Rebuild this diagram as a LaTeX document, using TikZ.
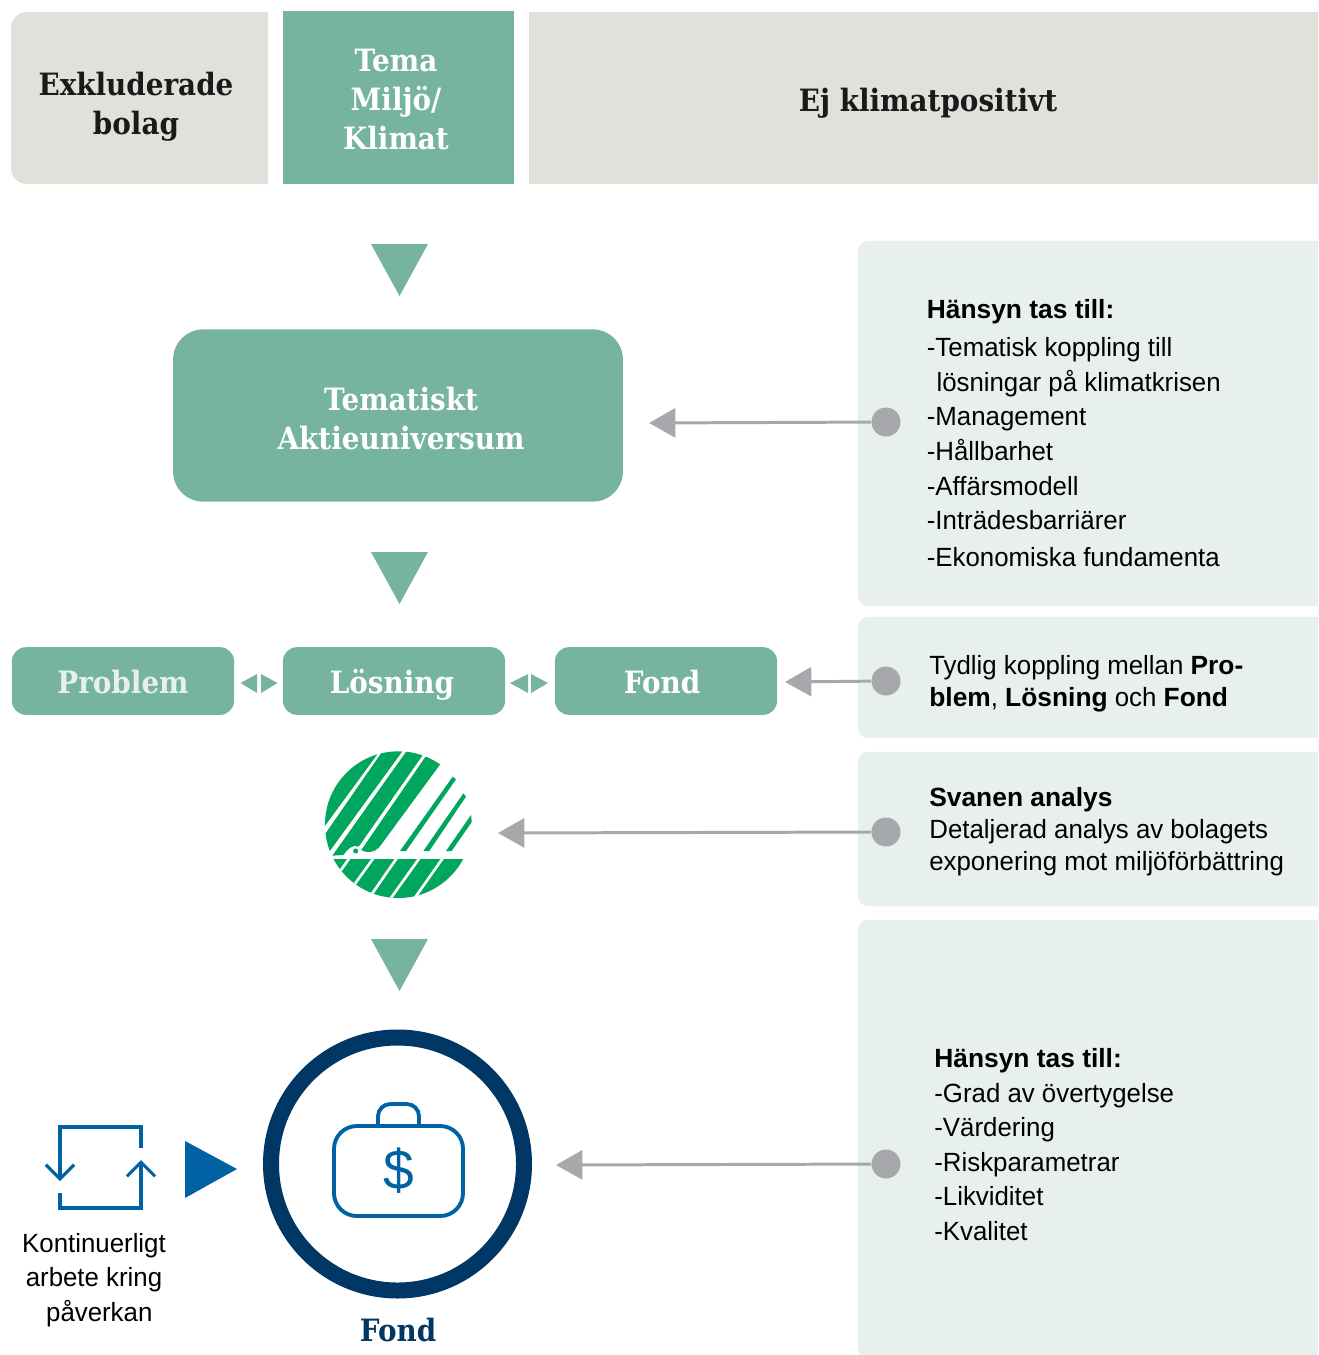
\documentclass[tikz,border=0pt]{standalone}
\usepackage{fontspec}
\setmainfont[FakeStretch=0.98, BoldFeatures={FakeStretch=1.0}]{Liberation Sans}
\newfontfamily\slabfont[FakeStretch=0.905]{DejaVu Serif}
\usetikzlibrary{arrows.meta}
\definecolor{flowgreen}{RGB}{118, 179, 161}
\definecolor{stonegray}{RGB}{225, 224, 219}
\definecolor{mistgreen}{RGB}{232, 240, 238}
\definecolor{pingray}{RGB}{167, 168, 172}
\definecolor{fundnavy}{RGB}{0, 55, 100}
\definecolor{fundblue}{RGB}{0, 98, 163}
\definecolor{swangreen}{RGB}{0, 166, 93}
\definecolor{inkblack}{RGB}{26, 26, 26}
\tikzset{
    headtext/.style={font=\slabfont\bfseries\fontsize{17.5}{22}\selectfont, align=center, inner sep=0pt},
    greenbox/.style={fill=flowgreen, rounded corners=8pt, inner sep=0pt},
    notebox/.style={fill=mistgreen, rounded corners=6pt, inner sep=0pt, anchor=north west},
    notetext/.style={font=\fontsize{15}{19.7}\selectfont, align=left, anchor=north west, inner sep=0pt, text=black},
    pindot/.style={circle, fill=pingray, minimum size=16.5pt, inner sep=0pt},
    pinline/.style={draw=pingray, line width=1.7pt, -{Triangle[length=15pt, width=16.5pt]}}
}
\begin{document}
\begin{tikzpicture}[x=0.02cm, y=-0.02cm]
    \useasboundingbox (0,0) rectangle (1318,1355);
    \clip (0,0) rectangle (1318,1355);
    % top row
    \fill[stonegray] (268,12) [rounded corners=9pt] -- (11,12) -- (11,184) [sharp corners] -- (268,184) -- cycle;
    \node[headtext, text=inkblack] (excluded) at (136,107) {Exkluderade\\bolag};
    \node[fill=flowgreen, minimum width=131.5pt, minimum height=98.5pt, inner sep=0pt] (theme) at (398.5,97.5) {};
    \node[headtext, text=white] (themetext) at (396,99.5) {Tema\\Miljö/\\Klimat};
    \fill[stonegray] (529,12) -- (1340,12) -- (1340,184) -- (529,184) -- cycle;
    \node[headtext, text=inkblack] (notpositive) at (928,103) {Ej klimatpositivt};
    % flow triangles
    \fill[flowgreen] (371,244) -- (428,244) -- (399.5,296) -- cycle;
    \fill[flowgreen] (371,552) -- (428,552) -- (399.5,604) -- cycle;
    \fill[flowgreen] (371,939) -- (428,939) -- (399.5,991) -- cycle;
    % universe
    \node[greenbox, minimum width=256pt, minimum height=98pt, rounded corners=17pt] (universe) at (398,415.5) {};
    \node[headtext, text=white] (universetext) at (401,418.5) {Tematiskt\\Aktieuniversum};
    % problem row
    \node[greenbox, minimum width=126.5pt, minimum height=38.5pt] (problem) at (123,681) {};
    \node[greenbox, minimum width=126.5pt, minimum height=38.5pt] (solution) at (394,681) {};
    \node[greenbox, minimum width=126.5pt, minimum height=38.5pt] (fund) at (666,681) {};
    \node[headtext, text=mistgreen] (problemtext) at (123,682) {Problem};
    \node[headtext, text=white] (solutiontext) at (392,685) {Lösning};
    \node[headtext, text=white] (fundtext) at (662,682) {Fond};
    \fill[flowgreen] (240.5,683) -- (257,674) -- (257,693) -- cycle;
    \fill[flowgreen] (277.5,683) -- (261,674) -- (261,693) -- cycle;
    \fill[flowgreen] (510,683) -- (528,674) -- (528,693) -- cycle;
    \fill[flowgreen] (548,683) -- (531,674) -- (531,693) -- cycle;
    % panels
    \node[notebox, minimum width=300pt, minimum height=208pt] (panela) at (857.5,240.5) {};
    \node[notebox, minimum width=300pt, minimum height=69pt] (panelb) at (857.5,616.5) {};
    \node[notebox, minimum width=300pt, minimum height=88pt] (panelc) at (857.5,751.5) {};
    \node[notebox, minimum width=300pt, minimum height=250pt] (paneld) at (857.5,919.5) {};
    \node[notetext] (notea) at (926.5,299) {\textbf{Hänsyn tas till:}\\[2pt]-Tematisk koppling till\\\hspace*{5.5pt}lösningar på klimatkrisen\\-Management\\-Hållbarhet\\-Affärsmodell\\-Inträdesbarriärer\\[1pt]-Ekonomiska fundamenta};
    \node[notetext] (noteb) at (929,655) {Tydlig koppling mellan \textbf{Pro-}\\[-1.5pt]\textbf{blem}, \textbf{Lösning} och \textbf{Fond}};
    \node[notetext] (notec) at (929,787) {\textbf{Svanen analys}\\[-1.5pt]Detaljerad analys av bolagets\\[-1.5pt]exponering mot miljöförbättring};
    \node[notetext] (noted) at (934,1048) {\textbf{Hänsyn tas till:}\\-Grad av övertygelse\\-Värdering\\-Riskparametrar\\-Likviditet\\-Kvalitet};
    % pins
    \node[pindot] (pina) at (886,422) {};
    \node[pindot] (pinb) at (886,681) {};
    \node[pindot] (pinc) at (886,832) {};
    \node[pindot] (pind) at (886,1164) {};
    \coordinate (tipa) at (649,423);
    \coordinate (tipb) at (785,682);
    \coordinate (tipc) at (498,833);
    \coordinate (tipd) at (556,1165);
    \draw[pinline] (pina) -- (tipa);
    \draw[pinline] (pinb) -- (tipb);
    \draw[pinline] (pinc) -- (tipc);
    \draw[pinline] (pind) -- (tipd);
    % swan label
    \begin{scope}[shift={(300,740)}, x=0.00667cm, y=-0.00667cm]
        \begin{scope}
            \clip (295,254) circle (1.4673cm);
            \fill[swangreen] (60,278) -- (240,32) -- (60,32) -- cycle;
            \fill[swangreen] (74,284) -- (250,30) -- (310,30) -- (88,335) -- cycle;
            \fill[swangreen] (97,347) -- (322,30) -- (372,40) -- (176,320) .. controls (160,312) and (145,325) .. (130,345) -- cycle;
            \fill[swangreen] (184,330) -- (380,45) -- (430,60) -- (245,312) .. controls (235,330) and (215,340) .. (195,335) -- cycle;
            \fill[swangreen] (300,333) -- (318,333) -- (468,118) -- (458,110) -- cycle;
            \fill[swangreen] (370,333) -- (388,333) -- (498,170) -- (490,160) -- cycle;
            \fill[swangreen] (438,333) -- (455,333) -- (530,225) -- (520,215) -- cycle;
            \fill[swangreen] (60,357) rectangle (530,490);
            \draw[white, line width=1.5pt] (150,352) -- (110,408);
            \draw[white, line width=1.5pt] (222,352) -- (150,452);
            \draw[white, line width=1.5pt] (292,352) -- (210,470);
            \draw[white, line width=1.5pt] (360,352) -- (265,485);
            \draw[white, line width=1.5pt] (430,352) -- (340,480);
        \end{scope}
        \fill[swangreen] (167,333) circle (0.05cm);
    \end{scope}
    % fund ring
    \node[circle, draw=fundnavy, line width=9.1pt, minimum size=144pt, inner sep=0pt] (ring) at (397.5,1164) {};
    \node[headtext, text=fundnavy] (ringlabel) at (398,1330) {Fond};
    % bag icon
    \draw[fundblue, line width=2.2pt, rounded corners=13pt] (334,1126) rectangle (463,1216);
    \draw[fundblue, line width=2.2pt, rounded corners=7pt] (378,1126) -- (378,1104) -- (419,1104) -- (419,1126);
    \node[font=\fontsize{32}{32}\selectfont, text=fundblue, inner sep=0pt] (dollar) at (399,1171) {\$};
    % loop icon
    \draw[fundblue, line width=1.8pt, -{Straight Barb[length=8pt, width=16pt]}] (141,1148) -- (141,1127) -- (60,1127) -- (60,1181);
    \draw[fundblue, line width=1.8pt, -{Straight Barb[length=8pt, width=16pt]}] (60,1193) -- (60,1208) -- (141,1208) -- (141,1160);
    \fill[fundblue] (185,1141) -- (237,1169) -- (185,1198) -- cycle;
    \node[font=\fontsize{15}{19.7}\selectfont, align=center, inner sep=0pt, text=black] (loopnote) at (94,1280) {Kontinuerligt\\arbete kring\\\hspace*{6pt}påverkan};
\end{tikzpicture}
\end{document}
